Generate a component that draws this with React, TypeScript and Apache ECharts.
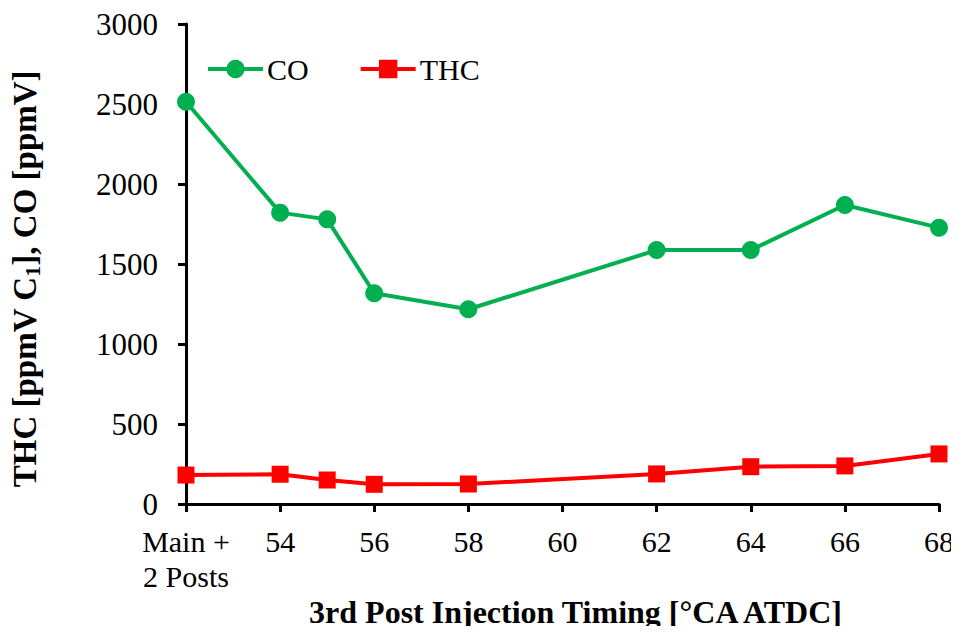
import React, { useEffect, useRef } from "react";
import * as echarts from "echarts";

const xValues = [52, 54, 55, 56, 58, 62, 64, 66, 68];
const coValues = [2514, 1821, 1779, 1317, 1217, 1587, 1587, 1869, 1727];
const thcValues = [181, 186, 150, 123, 125, 188, 233, 238, 313];
const firstTickLabel = ["Main +", "2 Posts"];

const FONT = "Liberation Serif";

export default function App() {
  const ref = useRef<HTMLDivElement>(null);
  useEffect(() => {
    if (!ref.current) return;
    const chart = echarts.init(ref.current, undefined, { renderer: "svg" });
    chart.setOption({
      animation: false,
      backgroundColor: "#ffffff",
      textStyle: { fontFamily: FONT },
      grid: { left: 186, right: 20, top: 24, bottom: 130, containLabel: false },
      legend: {
        left: 206,
        top: 54,
        padding: 0,
        itemWidth: 55,
        itemHeight: 23,
        itemGap: 50,
        lineStyle: { width: 4 },
        textStyle: { fontFamily: FONT, fontSize: 30, color: "#000", padding: [0, 0, 0, -1] },
        data: ["CO", "THC"],
      },
      xAxis: {
        type: "value",
        min: 52,
        max: 68,
        interval: 2,
        splitLine: { show: false },
        axisLine: { lineStyle: { color: "#000", width: 3 } },
        axisTick: { show: true, length: 8, lineStyle: { color: "#000", width: 3 } },
        axisLabel: {
          fontFamily: FONT,
          fontSize: 30,
          color: "#000",
          margin: 20,
          formatter: (v: number) =>
            v === 52
              ? `{t|${firstTickLabel[0]}}\n{t|${firstTickLabel[1]}}`
              : `{t|${v}}`,
          rich: {
            t: { fontFamily: FONT, fontSize: 30, color: "#000", lineHeight: 35 },
          },
        },
        name: "3rd Post Injection Timing [°CA ATDC]",
        nameLocation: "middle",
        nameGap: 90,
        nameTextStyle: {
          fontFamily: FONT,
          fontSize: 32,
          fontWeight: "bold",
          color: "#000",
          padding: [0, 0, 0, 26],
        },
      },
      yAxis: {
        type: "value",
        min: 0,
        max: 3000,
        interval: 500,
        splitLine: { show: false },
        axisLine: { show: true, lineStyle: { color: "#000", width: 3 } },
        axisTick: { show: true, length: 8, lineStyle: { color: "#000", width: 3 } },
        axisLabel: {
          fontFamily: FONT,
          fontSize: 31,
          color: "#000",
          margin: 28,
          formatter: (v: number) => `{t|${v}}`,
          rich: { t: { fontFamily: FONT, fontSize: 31, color: "#000" } },
        },
        name: "THC [ppmV C{sub|1}], CO [ppmV]",
        nameLocation: "middle",
        nameGap: 143,
        nameTextStyle: {
          fontFamily: FONT,
          fontSize: 33,
          fontWeight: "bold",
          color: "#000",
          padding: [0, 30, 0, 0],
          rich: {
            sub: {
              fontFamily: FONT,
              fontSize: 22,
              fontWeight: "bold",
              color: "#000",
              verticalAlign: "bottom",
              padding: [15, 0, 0, 0],
            },
          },
        },
      },
      series: [
        {
          name: "CO",
          type: "line",
          data: xValues.map((x, i) => [x, coValues[i]]),
          symbol: "circle",
          symbolSize: 18,
          lineStyle: { color: "#00B050", width: 4 },
          itemStyle: { color: "#00B050" },
        },
        {
          name: "THC",
          type: "line",
          data: xValues.map((x, i) => [x, thcValues[i]]),
          symbol: "rect",
          symbolSize: 17,
          lineStyle: { color: "#FF0000", width: 4 },
          itemStyle: { color: "#FF0000" },
        },
      ],
    });
    return () => chart.dispose();
  }, []);
  return <div ref={ref} style={{ width: 959, height: 634, margin: -8 }} />;
}
